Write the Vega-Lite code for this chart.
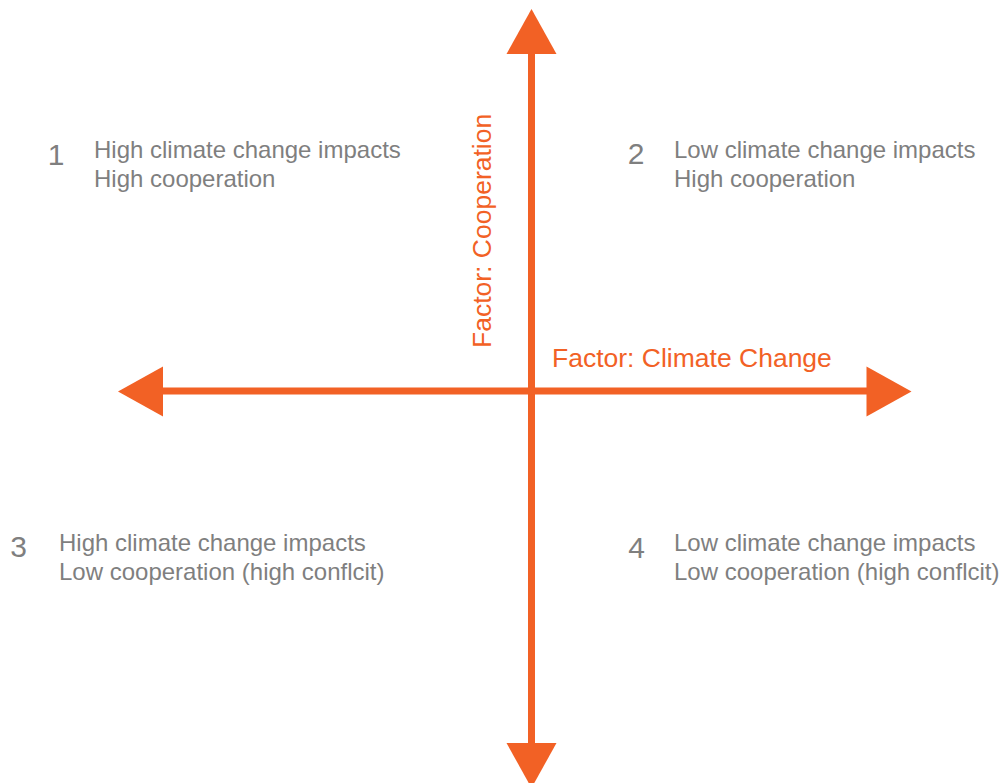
{
  "$schema": "https://vega.github.io/schema/vega-lite/v6.json",
  "width": 1005,
  "height": 783,
  "autosize": {"type": "none"},
  "padding": 0,
  "background": "white",
  "config": {"view": {"stroke": null}},
  "datasets": {
    "shafts": [
      {"x1": 531.5, "y1": 54, "x2": 531.5, "y2": 744},
      {"x1": 162, "y1": 391, "x2": 867, "y2": 391}
    ],
    "heads": [
      {"x": 531.5, "y": 31.5, "dir": "up"},
      {"x": 531.5, "y": 765.5, "dir": "down"},
      {"x": 140.5, "y": 391.5, "dir": "left"},
      {"x": 889, "y": 391.5, "dir": "right"}
    ],
    "nums": [
      {"x": 56, "y": 165, "label": "1"},
      {"x": 636, "y": 164, "label": "2"},
      {"x": 18.5, "y": 557, "label": "3"},
      {"x": 636.5, "y": 558, "label": "4"}
    ],
    "lines": [
      {"x": 94, "y": 158, "label": "High climate change impacts"},
      {"x": 94, "y": 187, "label": "High cooperation"},
      {"x": 674, "y": 158, "label": "Low climate change impacts"},
      {"x": 674, "y": 187, "label": "High cooperation"},
      {"x": 59, "y": 551, "label": "High climate change impacts"},
      {"x": 59, "y": 580, "label": "Low cooperation (high conflcit)"},
      {"x": 674, "y": 551, "label": "Low climate change impacts"},
      {"x": 674, "y": 580, "label": "Low cooperation (high conflcit)"}
    ],
    "hlabel": [{"x": 552, "y": 367, "label": "Factor: Climate Change"}],
    "vlabel": [{"x": 491, "y": 348, "label": "Factor: Cooperation"}]
  },
  "layer": [
    {
      "data": {"name": "shafts"},
      "mark": {"type": "rule", "color": "#F26125", "strokeWidth": 7, "strokeCap": "butt"},
      "encoding": {
        "x": {"field": "x1", "type": "quantitative", "scale": {"domain": [0, 1005], "nice": false, "zero": false}, "axis": null},
        "x2": {"field": "x2"},
        "y": {"field": "y1", "type": "quantitative", "scale": {"domain": [0, 783], "nice": false, "zero": false, "reverse": true}, "axis": null},
        "y2": {"field": "y2"}
      }
    },
    {
      "data": {"name": "heads"},
      "mark": {"type": "point", "filled": true, "opacity": 1, "size": 2500, "color": "#F26125", "strokeWidth": 0},
      "encoding": {
        "x": {"field": "x", "type": "quantitative", "axis": null},
        "y": {"field": "y", "type": "quantitative", "axis": null},
        "shape": {
          "field": "dir", "type": "nominal", "legend": null,
          "scale": {
            "domain": ["up", "down", "left", "right"],
            "range": ["M0,-0.9L1,0.9L-1,0.9Z", "M0,0.9L1,-0.9L-1,-0.9Z", "M-0.9,0L0.9,-1L0.9,1Z", "M0.9,0L-0.9,-1L-0.9,1Z"]
          }
        }
      }
    },
    {
      "data": {"name": "nums"},
      "mark": {"type": "text", "font": "Liberation Sans", "fontSize": 30, "color": "#7f7f7f", "align": "center", "baseline": "alphabetic"},
      "encoding": {
        "x": {"field": "x", "type": "quantitative", "axis": null},
        "y": {"field": "y", "type": "quantitative", "axis": null},
        "text": {"field": "label"}
      }
    },
    {
      "data": {"name": "lines"},
      "mark": {"type": "text", "font": "Liberation Sans", "fontSize": 24, "color": "#7f7f7f", "align": "left", "baseline": "alphabetic"},
      "encoding": {
        "x": {"field": "x", "type": "quantitative", "axis": null},
        "y": {"field": "y", "type": "quantitative", "axis": null},
        "text": {"field": "label"}
      }
    },
    {
      "data": {"name": "hlabel"},
      "mark": {"type": "text", "font": "Liberation Sans", "fontSize": 26.5, "color": "#F26125", "align": "left", "baseline": "alphabetic"},
      "encoding": {
        "x": {"field": "x", "type": "quantitative", "axis": null},
        "y": {"field": "y", "type": "quantitative", "axis": null},
        "text": {"field": "label"}
      }
    },
    {
      "data": {"name": "vlabel"},
      "mark": {"type": "text", "font": "Liberation Sans", "fontSize": 26.5, "color": "#F26125", "align": "left", "baseline": "alphabetic", "angle": 270},
      "encoding": {
        "x": {"field": "x", "type": "quantitative", "axis": null},
        "y": {"field": "y", "type": "quantitative", "axis": null},
        "text": {"field": "label"}
      }
    }
  ]
}
